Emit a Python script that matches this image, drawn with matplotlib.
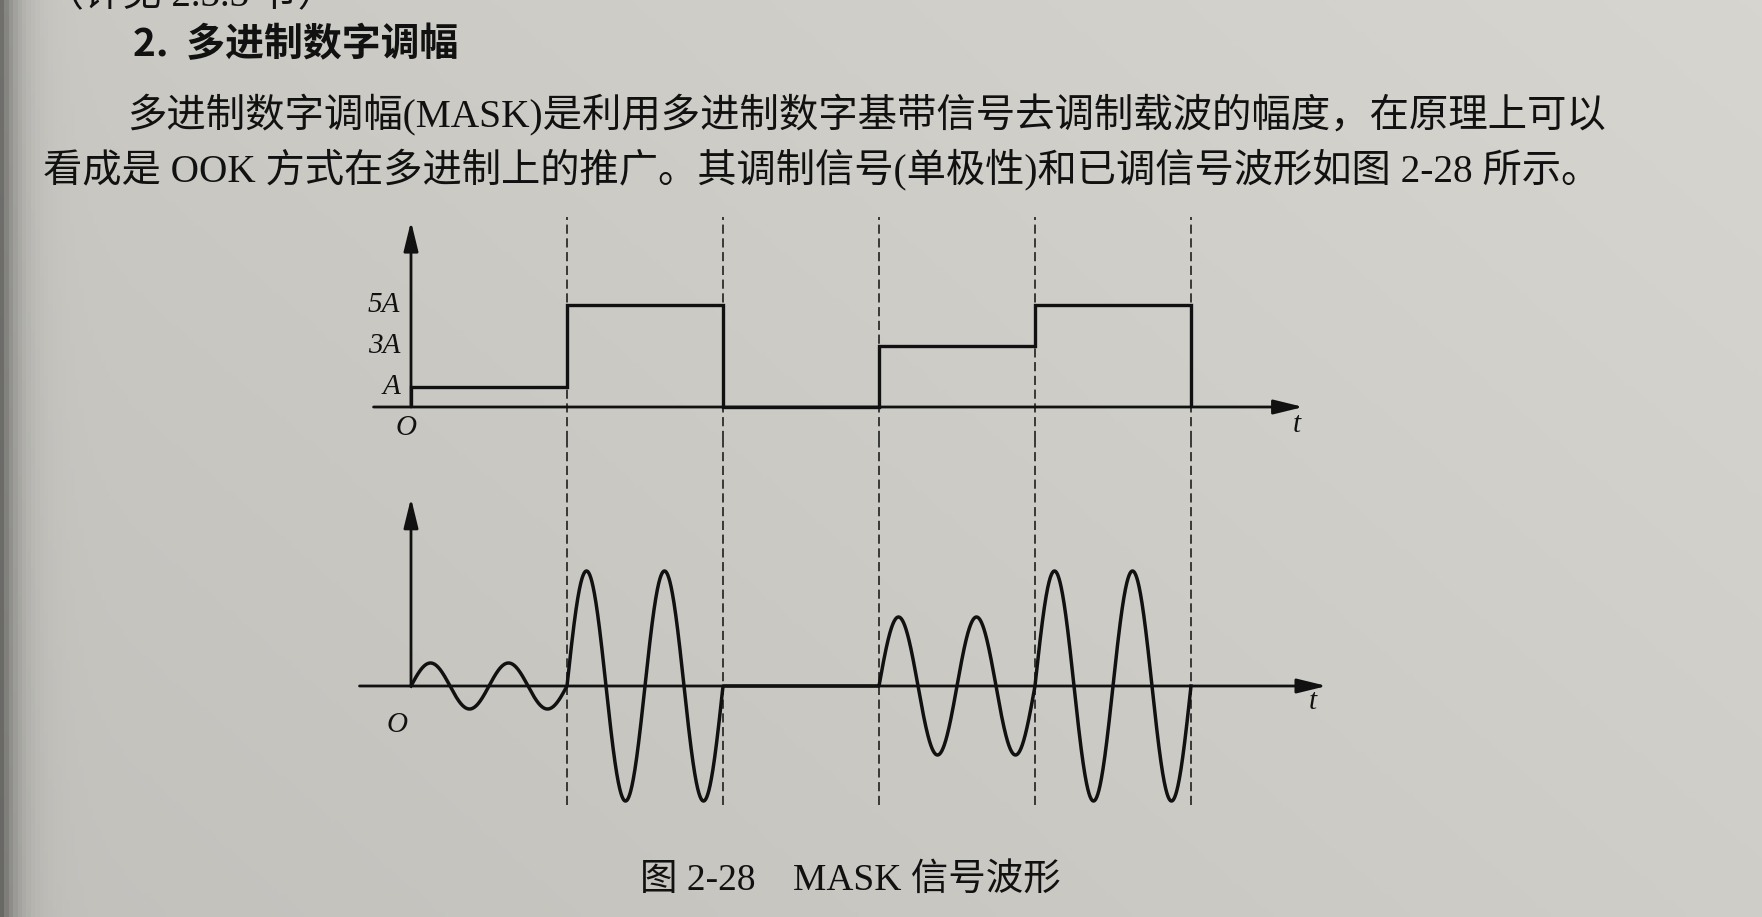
import numpy as np
import matplotlib.pyplot as plt

W, H = 1762, 917
DPI = 100

# baseband levels per symbol (in units of A) and carrier cycles per symbol
levels = [1, 5, 0, 3, 5]
cycles_per_symbol = 2
level_ticks = [1, 3, 5]
level_labels = ["A", "3A", "5A"]

cut_line = "（详见 2.3.3 节）"
heading = "2.  多进制数字调幅"
para_lines = [
    "多进制数字调幅(MASK)是利用多进制数字基带信号去调制载波的幅度，在原理上可以",
    "看成是 OOK 方式在多进制上的推广。其调制信号(单极性)和已调信号波形如图 2-28 所示。",
]
caption = "图 2-28    MASK 信号波形"

BODY_FONT = ["Liberation Serif", "Noto Sans CJK SC", "DejaVu Sans"]
MATH_FONT = ["Liberation Serif", "DejaVu Serif"]
INK = "#111111"

# pixel layout of the diagram
X0_PX = 411        # t = 0
PX_PER_T = 156     # pixels per symbol


def fx(x):
    return x / W


def fy(y):
    return 1 - y / H


def make_axes(fig, top_px, bottom_px, base_px, unit_px, left_px=280, right_px=1420):
    ax = fig.add_axes([fx(left_px), fy(bottom_px), (right_px - left_px) / W, (bottom_px - top_px) / H])
    ax.set_xlim((left_px - X0_PX) / PX_PER_T, (right_px - X0_PX) / PX_PER_T)
    ax.set_ylim(-(bottom_px - base_px) / unit_px, (base_px - top_px) / unit_px)
    ax.axis("off")
    ax.patch.set_alpha(0)
    return ax


def arrow(ax, start, end):
    ax.annotate("", xy=end, xytext=start,
                arrowprops=dict(arrowstyle="-|>,head_length=0.9,head_width=0.22",
                                lw=2.0, color=INK, shrinkA=0, shrinkB=0, mutation_scale=20))


fig = plt.figure(figsize=(W / DPI, H / DPI), dpi=DPI)

# page background: grey paper with a dark binding shadow on the left
bg = fig.add_axes([0, 0, 1, 1], zorder=-5)
xx, yy = np.meshgrid(np.linspace(0, 1, 400), np.linspace(0, 1, 200))
shade = 0.76 + 0.05 * xx + 0.03 * (1 - yy)
shade -= 0.35 * np.exp(-xx * W / 16)
img = np.dstack([shade, shade * 0.995, shade * 0.97])
bg.imshow(np.clip(img, 0, 1), aspect="auto", extent=[0, 1, 0, 1], origin="upper")
bg.axis("off")

# text of the page
fig.text(fx(45), fy(-3), cut_line, family=BODY_FONT, fontsize=28, color=INK, va="center", ha="left")
fig.text(fx(133), fy(45), heading, family=["Noto Sans CJK SC"], fontweight="bold",
         fontsize=28, color=INK, va="center", ha="left")
fig.text(fx(127), fy(115), para_lines[0], family=BODY_FONT, fontsize=28.4, color=INK, va="center", ha="left")
fig.text(fx(43), fy(169), para_lines[1], family=BODY_FONT, fontsize=28.3, color=INK, va="center", ha="left")
fig.text(fx(640), fy(880), caption, family=BODY_FONT, fontsize=27, color=INK, va="center", ha="left")

n = len(levels)
edges = np.arange(n + 1)

# --- top: unipolar multilevel baseband signal ---
ax1 = make_axes(fig, 210, 440, 407, 20.4)
ax1.stairs(levels, edges, baseline=0, fill=False, color=INK, lw=2.4)
arrow(ax1, (-0.24, 0), (5.72, 0))
arrow(ax1, (0, 0), (0, 9.1))
for k in edges[1:]:
    ax1.plot([k, k], [ax1.get_ylim()[0], 9.3], color=INK, lw=1.1, ls=(0, (6, 3)))
for v, lab in zip(level_ticks, level_labels):
    ax1.text(-0.07, v, lab, family=MATH_FONT, style="italic", fontsize=21,
             color=INK, ha="right", va="center")
ax1.text(-0.03, -1.05, "O", family=MATH_FONT, style="italic", fontsize=21, color=INK, ha="center", va="center")
ax1.text(5.68, -0.9, "t", family=MATH_FONT, style="italic", fontsize=21, color=INK, ha="center", va="center")

# --- bottom: MASK modulated carrier ---
ax2 = make_axes(fig, 440, 815, 686, 23.0)
t = np.linspace(0, n, 4000)
amp = np.array(levels)[np.minimum(t.astype(int), n - 1)]
s = amp * np.sin(2 * np.pi * cycles_per_symbol * t)
ax2.plot(t, s, color=INK, lw=2.5)
arrow(ax2, (-0.33, 0), (5.87, 0))
arrow(ax2, (0, 0), (0, 8.17))
for k in edges[1:]:
    ax2.plot([k, k], [-5.17, ax2.get_ylim()[1]], color=INK, lw=1.1, ls=(0, (6, 3)))
ax2.text(-0.09, -1.7, "O", family=MATH_FONT, style="italic", fontsize=21, color=INK, ha="center", va="center")
ax2.text(5.78, -0.7, "t", family=MATH_FONT, style="italic", fontsize=21, color=INK, ha="center", va="center")

fig.savefig("out.png", dpi=DPI)
